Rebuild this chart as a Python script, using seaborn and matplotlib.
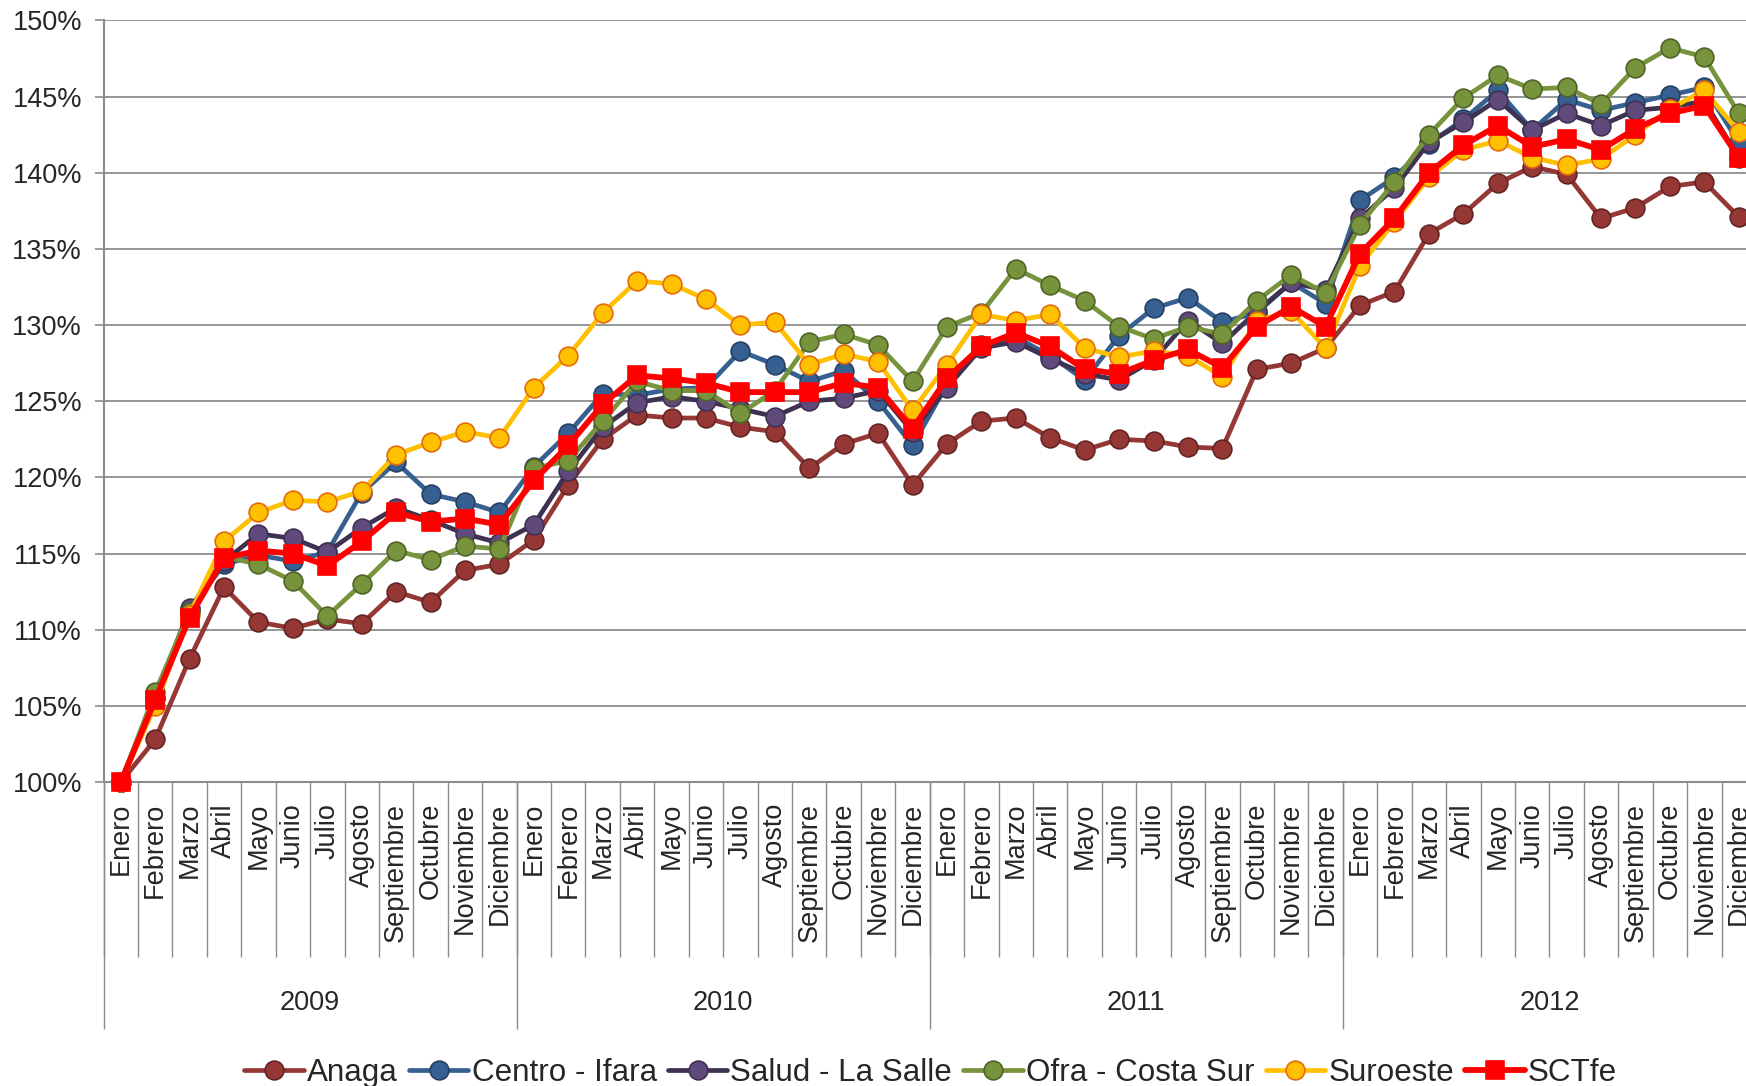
import matplotlib
matplotlib.use("Agg")
import matplotlib.pyplot as plt
import seaborn as sns
import numpy as np
import pandas as pd

months = ["Enero", "Febrero", "Marzo", "Abril", "Mayo", "Junio", "Julio",
          "Agosto", "Septiembre", "Octubre", "Noviembre", "Diciembre"]
years = ["2009", "2010", "2011", "2012"]

anaga = [100, 102.8, 108.1, 112.8, 110.5, 110.1, 110.7, 110.4, 112.5, 111.8, 113.9, 114.3,
         115.9, 119.5, 122.5, 124.1, 123.9, 123.9, 123.3, 123.0, 120.6, 122.2, 122.9, 119.5,
         122.2, 123.7, 123.9, 122.6, 121.8, 122.5, 122.4, 122.0, 121.9, 127.1, 127.5, 128.5,
         131.3, 132.2, 136.0, 137.3, 139.3, 140.4, 139.9, 137.0, 137.7, 139.1, 139.4, 137.1]
centro = [100, 105.5, 111.3, 114.3, 114.9, 114.5, 115.1, 119.0, 121.0, 118.9, 118.4, 117.7,
          120.7, 122.9, 125.5, 125.4, 125.8, 125.9, 128.3, 127.4, 126.3, 127.0, 125.0, 122.1,
          126.1, 128.7, 129.2, 128.0, 126.4, 129.3, 131.1, 131.8, 130.2, 130.8, 132.8, 131.4,
          138.2, 139.7, 141.9, 143.5, 145.4, 142.8, 144.8, 144.1, 144.6, 145.1, 145.6, 142.0]
salud = [100, 105.5, 111.4, 114.5, 116.3, 116.0, 115.1, 116.7, 118.0, 117.2, 116.3, 115.7,
         116.9, 120.4, 123.3, 124.9, 125.3, 125.0, 124.5, 124.0, 125.0, 125.2, 125.7, 123.0,
         125.9, 128.5, 128.9, 127.8, 126.8, 126.4, 127.7, 130.3, 128.8, 130.9, 132.8, 132.3,
         137.0, 139.0, 142.0, 143.3, 144.8, 142.8, 143.9, 143.1, 144.1, 144.3, 144.7, 141.0]
ofra = [100, 105.9, 111.2, 114.8, 114.3, 113.2, 110.9, 113.0, 115.2, 114.6, 115.5, 115.3,
        120.6, 121.1, 123.7, 126.3, 125.7, 125.7, 124.2, 125.7, 128.9, 129.4, 128.7, 126.3,
        129.9, 130.8, 133.7, 132.6, 131.6, 129.9, 129.1, 129.9, 129.4, 131.6, 133.3, 132.1,
        136.6, 139.4, 142.5, 144.9, 146.4, 145.5, 145.6, 144.5, 146.9, 148.2, 147.6, 143.9]
suroeste = [100, 105.0, 111.0, 115.8, 117.7, 118.5, 118.4, 119.1, 121.5, 122.3, 123.0, 122.6,
            125.9, 128.0, 130.8, 132.9, 132.7, 131.7, 130.0, 130.2, 127.4, 128.1, 127.6, 124.4,
            127.4, 130.7, 130.3, 130.7, 128.5, 127.9, 128.3, 128.0, 126.6, 130.3, 130.9, 128.5,
            133.9, 136.8, 139.7, 141.5, 142.1, 141.0, 140.5, 140.9, 142.5, 144.2, 145.4, 142.7]
sctfe = [100, 105.4, 110.8, 114.7, 115.2, 115.0, 114.2, 115.8, 117.7, 117.1, 117.3, 116.9,
         119.8, 122.1, 124.8, 126.7, 126.5, 126.2, 125.6, 125.6, 125.6, 126.2, 125.9, 123.2,
         126.5, 128.6, 129.5, 128.6, 127.1, 126.8, 127.7, 128.4, 127.2, 129.9, 131.2, 129.9,
         134.7, 137.0, 140.0, 141.8, 143.1, 141.7, 142.2, 141.5, 142.9, 143.9, 144.4, 141.0]

series_names = ["Anaga", "Centro - Ifara", "Salud - La Salle", "Ofra - Costa Sur", "Suroeste", "SCTfe"]
series_values = [anaga, centro, salud, ofra, suroeste, sctfe]

styles = {
    "Anaga": dict(color="#953735", marker="o", mfc="#953735", mec="#632523", ms=13.5, lw=3.4),
    "Centro - Ifara": dict(color="#376092", marker="o", mfc="#376092", mec="#254061", ms=13.5, lw=3.4),
    "Salud - La Salle": dict(color="#3F3151", marker="o", mfc="#604A7B", mec="#403152", ms=13.5, lw=3.4),
    "Ofra - Costa Sur": dict(color="#77933C", marker="o", mfc="#77933C", mec="#4F6228", ms=13.5, lw=3.4),
    "Suroeste": dict(color="#FFC000", marker="o", mfc="#FFC000", mec="#E46C0A", ms=13.5, lw=3.4),
    "SCTfe": dict(color="#FF0000", marker="s", mfc="#FF0000", mec="#FF0000", ms=13.5, lw=4.2),
}

sns.set_theme(style="white")
plt.rcParams["font.family"] = ["Liberation Sans", "DejaVu Sans"]

fig = plt.figure(figsize=(17.46, 10.86), dpi=100)
ax = fig.add_axes([0.0593, 0.2798, 0.9464, 0.7014])

x = np.arange(len(anaga))
for name, vals in zip(series_names, series_values):
    st = styles[name]
    df = pd.DataFrame({"x": x, "y": vals})
    sns.lineplot(data=df, x="x", y="y", ax=ax, color=st["color"], linewidth=st["lw"],
                 marker=st["marker"], markersize=st["ms"], markerfacecolor=st["mfc"],
                 markeredgecolor=st["mec"], markeredgewidth=1.2, label=name,
                 clip_on=False, zorder=3)

ax.set_xlim(-0.5, 47.5)
ax.set_ylim(100, 150)
ax.set_yticks(np.arange(100, 151, 5))
ax.set_yticklabels([f"{v}%" for v in range(100, 151, 5)], fontsize=19.5)
ax.yaxis.grid(True, color="#8C8C8C", linewidth=1.3)
ax.set_axisbelow(True)
ax.tick_params(axis="y", direction="out", length=6.5, width=1.2, color="#8C8C8C", pad=9, left=True)

for s in ["top", "right"]:
    ax.spines[s].set_visible(False)
for s in ["left", "bottom"]:
    ax.spines[s].set_color("#8C8C8C")
    ax.spines[s].set_linewidth(1.5)

month_labels = months * len(years)
ax.set_xticks(x)
ax.set_xticklabels(month_labels, rotation=90, fontsize=19.5, va="top", ha="center")
ax.tick_params(axis="x", which="major", length=0, pad=15, bottom=True)
ax.set_xticks(np.arange(-0.5, 48, 1), minor=True)
ax.tick_params(axis="x", which="minor", length=126, width=1.0, color="#8C8C8C", direction="out", bottom=True)
ax.set_xlabel("")
ax.set_ylabel("")

sec = ax.secondary_xaxis("bottom")
sec.spines["bottom"].set_visible(False)
sec.set_xticks(np.arange(-0.5, 48, 12))
sec.set_xticklabels([""] * 5)
sec.tick_params(axis="x", which="major", length=178, width=1.0, color="#8C8C8C", direction="out")
sec.set_xticks(np.arange(5.5, 48, 12), minor=True)
sec.set_xticklabels(years, minor=True, fontsize=19.5)
sec.tick_params(axis="x", which="minor", length=0, pad=149.5)

ax.get_legend().remove()
handles, labels = ax.get_legend_handles_labels()
fig.legend(handles, labels, loc="center", bbox_to_anchor=(0.533, 0.012), ncol=6,
           frameon=False, fontsize=22.6, handlelength=1.9, handletextpad=0.1,
           columnspacing=0.35, borderaxespad=0)

fig.savefig("out.png", dpi=100)
